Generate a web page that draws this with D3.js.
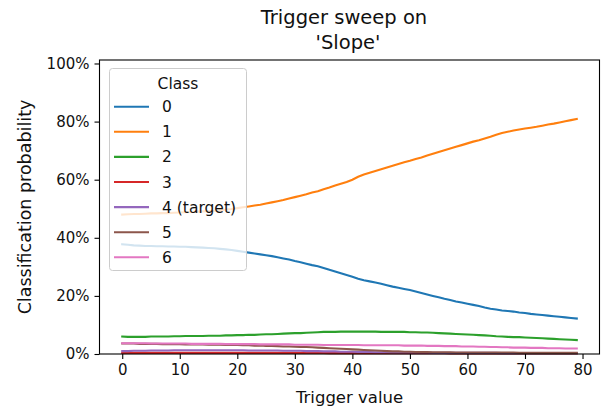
<!DOCTYPE html>
<html>
<head>
<meta charset="utf-8">
<script src="https://cdn.jsdelivr.net/npm/d3@7"></script>
<style>
  body { margin: 0; background: #fff; }
  svg text { font-family: "DejaVu Sans", sans-serif; fill: #111; }
</style>
</head>
<body>
<div id="vis"></div>
<script>
'use strict'

// trigger values 0..79
const triggerValues = d3.range(0, 80)

const classNames = ['0', '1', '2', '3', '4 (target)', '5', '6']
const classColors = ['#1f77b4', '#ff7f0e', '#2ca02c', '#d62728', '#9467bd', '#8c564b', '#e377c2']

const xTicks = [0, 10, 20, 30, 40, 50, 60, 70, 80]
const yTicks = [0, 0.2, 0.4, 0.6, 0.8, 1.0]

const class0 = [0.378,0.376,0.374,0.373,0.372,0.372,0.371,0.371,0.370,0.370,
  0.369,0.369,0.368,0.367,0.366,0.365,0.364,0.362,0.360,0.358,
  0.355,0.352,0.349,0.346,0.343,0.340,0.337,0.333,0.329,0.325,
  0.320,0.316,0.311,0.306,0.302,0.296,0.290,0.284,0.278,0.272,
  0.266,0.259,0.254,0.250,0.246,0.242,0.237,0.232,0.228,0.224,
  0.220,0.215,0.210,0.205,0.200,0.195,0.190,0.186,0.181,0.177,
  0.173,0.169,0.165,0.160,0.156,0.153,0.150,0.148,0.146,0.143,
  0.141,0.138,0.136,0.134,0.132,0.130,0.128,0.126,0.124,0.122]

const class1 = [0.480,0.481,0.482,0.482,0.483,0.484,0.484,0.485,0.485,0.486,
  0.487,0.488,0.489,0.490,0.491,0.492,0.493,0.495,0.497,0.499,
  0.502,0.505,0.508,0.511,0.514,0.518,0.522,0.526,0.530,0.535,
  0.540,0.545,0.550,0.556,0.560,0.567,0.573,0.580,0.586,0.592,
  0.600,0.610,0.618,0.624,0.630,0.636,0.642,0.648,0.654,0.660,
  0.665,0.671,0.676,0.683,0.689,0.695,0.701,0.707,0.713,0.719,
  0.725,0.731,0.736,0.742,0.748,0.755,0.761,0.765,0.769,0.773,
  0.776,0.779,0.782,0.786,0.790,0.793,0.797,0.801,0.805,0.809]

const class2 = [0.060,0.059,0.059,0.059,0.059,0.060,0.060,0.060,0.060,0.061,
  0.061,0.062,0.062,0.062,0.062,0.063,0.063,0.063,0.064,0.064,
  0.065,0.065,0.066,0.066,0.067,0.068,0.068,0.069,0.070,0.071,
  0.072,0.072,0.073,0.074,0.075,0.076,0.076,0.076,0.077,0.077,
  0.077,0.077,0.077,0.077,0.077,0.076,0.076,0.076,0.076,0.076,
  0.075,0.075,0.074,0.074,0.073,0.072,0.071,0.070,0.069,0.068,
  0.067,0.066,0.065,0.064,0.063,0.061,0.060,0.059,0.058,0.058,
  0.057,0.056,0.055,0.054,0.053,0.052,0.051,0.050,0.049,0.048]

const class3 = [0.004,0.004,0.004,0.004,0.004,0.004,0.004,0.004,0.004,0.004,
  0.004,0.004,0.004,0.004,0.004,0.004,0.004,0.004,0.004,0.004,
  0.004,0.004,0.004,0.004,0.004,0.004,0.004,0.004,0.004,0.004,
  0.004,0.004,0.004,0.004,0.004,0.004,0.003,0.003,0.003,0.003,
  0.003,0.003,0.003,0.003,0.003,0.003,0.003,0.003,0.003,0.003,
  0.003,0.003,0.003,0.003,0.003,0.003,0.003,0.002,0.002,0.002,
  0.002,0.002,0.002,0.002,0.002,0.002,0.002,0.002,0.002,0.002,
  0.002,0.002,0.002,0.002,0.002,0.002,0.002,0.002,0.002,0.002]

const class4 = [0.010,0.010,0.011,0.011,0.011,0.012,0.012,0.012,0.012,0.013,
  0.013,0.013,0.013,0.013,0.013,0.013,0.013,0.013,0.013,0.013,
  0.013,0.013,0.012,0.012,0.012,0.012,0.012,0.012,0.011,0.011,
  0.011,0.011,0.010,0.010,0.010,0.009,0.009,0.009,0.008,0.008,
  0.008,0.007,0.007,0.007,0.006,0.006,0.006,0.005,0.005,0.005,
  0.005,0.005,0.005,0.005,0.004,0.004,0.004,0.004,0.004,0.004,
  0.004,0.004,0.004,0.004,0.004,0.004,0.003,0.003,0.003,0.003,
  0.003,0.003,0.003,0.003,0.003,0.003,0.003,0.003,0.003,0.003]

const class5 = [0.036,0.036,0.036,0.035,0.035,0.035,0.035,0.034,0.034,0.034,
  0.034,0.033,0.033,0.033,0.033,0.032,0.032,0.032,0.031,0.031,
  0.031,0.030,0.030,0.029,0.029,0.028,0.028,0.027,0.026,0.026,
  0.025,0.024,0.024,0.023,0.022,0.021,0.020,0.019,0.018,0.017,
  0.016,0.015,0.014,0.013,0.012,0.011,0.010,0.009,0.009,0.008,
  0.008,0.007,0.007,0.007,0.006,0.006,0.006,0.006,0.005,0.005,
  0.005,0.005,0.005,0.005,0.005,0.005,0.005,0.005,0.005,0.004,
  0.004,0.004,0.004,0.004,0.004,0.004,0.004,0.004,0.004,0.004]

const class6 = [0.037,0.037,0.037,0.037,0.037,0.036,0.036,0.036,0.036,0.036,
  0.036,0.036,0.035,0.035,0.035,0.035,0.035,0.035,0.034,0.034,
  0.034,0.034,0.034,0.034,0.033,0.033,0.033,0.033,0.033,0.033,
  0.032,0.032,0.032,0.032,0.032,0.031,0.031,0.031,0.031,0.031,
  0.031,0.031,0.030,0.030,0.030,0.030,0.030,0.030,0.030,0.029,
  0.029,0.029,0.029,0.028,0.028,0.028,0.027,0.027,0.027,0.026,
  0.026,0.026,0.025,0.025,0.024,0.024,0.023,0.023,0.022,0.022,
  0.022,0.021,0.021,0.021,0.020,0.020,0.020,0.019,0.019,0.019]

const series = [class0, class1, class2, class3, class4, class5, class6]

function wrapper(){
  let width = 605
  let height = 411
  let left = 99.5, right = 599.5, top = 60, bottom = 354

  let svg = d3.select("#vis").append("svg")
    .attr("width", width)
    .attr("height", height)

  let x = d3.scaleLinear().domain([-3.95, 82.95]).range([left, right])
  let y = d3.scaleLinear().domain([0, 1.012]).range([bottom, top])

  let line = d3.line()
    .x(function(d, i){ return x(triggerValues[i]) })
    .y(function(d){ return y(d) })

  // lines
  let lines_g = svg.append("g")
  series.forEach(function(s, i){
    lines_g.append("path")
      .datum(s)
      .attr("d", line)
      .attr("fill", "none")
      .attr("stroke", classColors[i])
      .attr("stroke-width", 2.1)
      .attr("stroke-linecap", "square")
  })

  // axes
  let xAxis = d3.axisBottom(x).tickValues(xTicks).tickSize(5).tickPadding(5)
  let yAxis = d3.axisLeft(y).tickValues(yTicks).tickSize(5).tickPadding(5)
    .tickFormat(d3.format(".0%"))

  let gx = svg.append("g").attr("transform", "translate(0," + bottom + ")").call(xAxis)
  let gy = svg.append("g").attr("transform", "translate(" + left + ",0)").call(yAxis)
  ;[gx, gy].forEach(function(g){
    g.select(".domain").remove()
    g.selectAll("line").attr("stroke", "#000").attr("stroke-width", 1.1)
    g.selectAll("text").attr("font-size", 15).attr("fill", "#111")
      .attr("font-family", "DejaVu Sans")
  })

  // legend
  let leg = svg.append("g")
  leg.append("rect")
    .attr("x", 109.5).attr("y", 68.5)
    .attr("width", 137).attr("height", 202)
    .attr("rx", 3)
    .attr("fill", "#fff").attr("fill-opacity", 0.8)
    .attr("stroke", "#ccc").attr("stroke-width", 1)

  leg.append("text")
    .attr("x", 178).attr("y", 89)
    .attr("text-anchor", "middle")
    .attr("font-size", 15.5)
    .text("Class")

  let rows = leg.selectAll(".row").data(classNames).join("g")
    .attr("class", "row")
    .attr("transform", function(d, i){ return "translate(0," + (106.7 + i * 25.1) + ")" })
  rows.append("line")
    .attr("x1", 114).attr("x2", 149)
    .attr("stroke", function(d, i){ return classColors[i] })
    .attr("stroke-width", 2.1)
  rows.append("text")
    .attr("x", 162).attr("y", 5.5)
    .attr("font-size", 15.5)
    .text(function(d){ return d })

  // frame
  svg.append("rect")
    .attr("x", left).attr("y", top)
    .attr("width", right - left).attr("height", bottom - top)
    .attr("fill", "none").attr("stroke", "#000").attr("stroke-width", 1.1)

  // title
  svg.append("text").attr("x", 344).attr("y", 24)
    .attr("text-anchor", "middle").attr("font-size", 19.5)
    .text("Trigger sweep on")
  svg.append("text").attr("x", 348).attr("y", 49)
    .attr("text-anchor", "middle").attr("font-size", 19.5)
    .text("'Slope'")

  // axis labels
  svg.append("text").attr("x", 349.5).attr("y", 403)
    .attr("text-anchor", "middle").attr("font-size", 16.5)
    .text("Trigger value")
  svg.append("text")
    .attr("transform", "translate(31," + ((top + bottom) / 2) + ") rotate(-90)")
    .attr("text-anchor", "middle").attr("font-size", 17.5)
    .text("Classification probability")
}

wrapper()
</script>
</body>
</html>
